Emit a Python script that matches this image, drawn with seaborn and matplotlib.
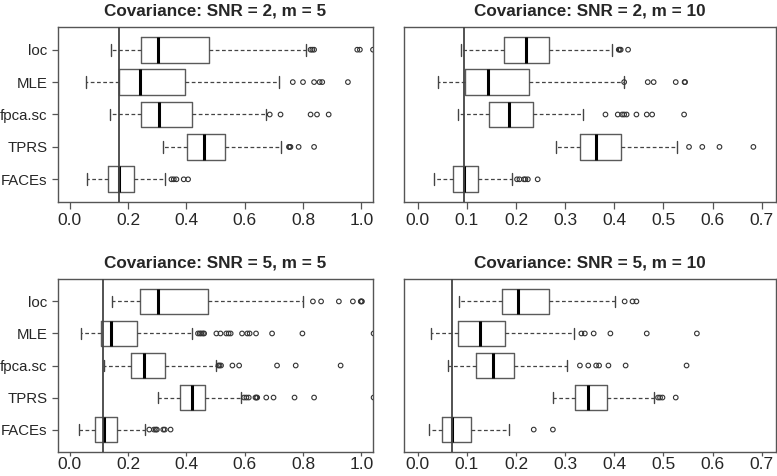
import pandas as pd
import matplotlib
matplotlib.use("Agg")
import matplotlib.pyplot as plt
import seaborn as sns

methods = ["loc", "MLE", "fpca.sc", "TPRS", "FACEs"]
titles = ["Covariance: SNR = 2, m = 5", "Covariance: SNR = 2, m = 10",
          "Covariance: SNR = 5, m = 5", "Covariance: SNR = 5, m = 10"]
truth = [0.169, 0.094, 0.115, 0.069]
x_ticks = [[0.0, 0.2, 0.4, 0.6, 0.8, 1.0],
           [0.0, 0.1, 0.2, 0.3, 0.4, 0.5, 0.6, 0.7],
           [0.0, 0.2, 0.4, 0.6, 0.8, 1.0],
           [0.0, 0.1, 0.2, 0.3, 0.4, 0.5, 0.6, 0.7]]
x_labels = [["0.0", "0.2", "0.4", "0.6", "0.8", "1.0"],
            ["0.0", "0.1", "0.2", "0.3", "0.4", "0.5", "0.6", "0.7"],
            ["0.0", "0.2", "0.4", "0.6", "0.8", "1.0"],
            ["0.0", "0.1", "0.2", "0.3", "0.4", "0.5", "0.6", "0.7"]]

# lower whisker, q1, median, q3, upper whisker (one row per method)
snr2_m5_box = [[0.141, 0.246, 0.303, 0.477, 0.811],
               [0.055, 0.170, 0.242, 0.394, 0.717],
               [0.137, 0.246, 0.305, 0.418, 0.673],
               [0.321, 0.403, 0.461, 0.534, 0.723],
               [0.061, 0.133, 0.169, 0.219, 0.328]]
snr2_m5_out = [[0.826, 0.832, 0.838, 0.986, 0.995, 1.040],
               [0.765, 0.800, 0.838, 0.857, 0.866, 0.954],
               [0.686, 0.723, 0.826, 0.848, 0.888],
               [0.752, 0.754, 0.757, 0.785, 0.838],
               [0.349, 0.357, 0.366, 0.391, 0.406]]

snr2_m10_box = [[0.089, 0.175, 0.221, 0.268, 0.396],
                [0.041, 0.097, 0.143, 0.227, 0.420],
                [0.082, 0.144, 0.185, 0.234, 0.337],
                [0.282, 0.331, 0.363, 0.413, 0.528],
                [0.033, 0.072, 0.094, 0.123, 0.192]]
snr2_m10_out = [[0.409, 0.411, 0.413, 0.428],
                [0.420, 0.468, 0.480, 0.525, 0.543, 0.544],
                [0.382, 0.407, 0.416, 0.420, 0.425, 0.445, 0.466, 0.477, 0.542],
                [0.552, 0.579, 0.614, 0.683],
                [0.202, 0.207, 0.216, 0.219, 0.224, 0.244]]

snr5_m5_box = [[0.145, 0.242, 0.302, 0.475, 0.800],
               [0.038, 0.106, 0.143, 0.232, 0.418],
               [0.117, 0.209, 0.256, 0.326, 0.501],
               [0.302, 0.377, 0.419, 0.464, 0.586],
               [0.032, 0.088, 0.117, 0.161, 0.257]]
snr5_m5_out = [[0.834, 0.862, 0.923, 0.971, 0.998, 1.000, 1.002],
               [0.440, 0.446, 0.451, 0.457, 0.461, 0.503, 0.517, 0.537, 0.545,
                0.552, 0.591, 0.609, 0.617, 0.639, 0.694, 0.798, 1.042],
               [0.510, 0.514, 0.519, 0.558, 0.581, 0.711, 0.775, 0.929],
               [0.598, 0.606, 0.614, 0.637, 0.640, 0.643, 0.674, 0.699, 0.771,
                0.838, 1.042],
               [0.273, 0.289, 0.295, 0.299, 0.321, 0.326, 0.346]]

snr5_m10_box = [[0.084, 0.172, 0.204, 0.268, 0.401],
                [0.027, 0.082, 0.126, 0.177, 0.318],
                [0.062, 0.119, 0.154, 0.195, 0.304],
                [0.275, 0.319, 0.346, 0.386, 0.481],
                [0.023, 0.050, 0.069, 0.108, 0.185]]
snr5_m10_out = [[0.421, 0.437, 0.445],
                [0.333, 0.340, 0.358, 0.392, 0.466, 0.568],
                [0.330, 0.347, 0.363, 0.369, 0.388, 0.423, 0.547],
                [0.489, 0.493, 0.498, 0.525],
                [0.236, 0.275]]

boxes = [snr2_m5_box, snr2_m10_box, snr5_m5_box, snr5_m10_box]
outliers = [snr2_m5_out, snr2_m10_out, snr5_m5_out, snr5_m10_out]

sns.set_style("ticks")
plt.rcParams["font.family"] = ["Liberation Sans", "DejaVu Sans"]

W, H = 777, 476
fig = plt.figure(figsize=(W / 100, H / 100), dpi=100)
rects = [[58, 27, 373, 202], [404, 27, 775.5, 202],
         [58, 279, 373, 452], [404, 279, 775.5, 452]]

frame = "#555555"
for k in range(4):
    x0, y0, x1, y1 = rects[k]
    ax = fig.add_axes([x0 / W, 1 - y1 / H, (x1 - x0) / W, (y1 - y0) / H])
    pos = list(range(1, len(methods) + 1))
    stats = []
    for i, m in enumerate(methods):
        lo, q1, med, q3, hi = boxes[k][i]
        stats.append(dict(label=m, whislo=lo, q1=q1, med=med, q3=q3,
                          whishi=hi, fliers=[]))
    ax.bxp(stats, positions=pos, orientation="horizontal", widths=0.8,
           capwidths=0.36, showfliers=False,
           boxprops=dict(color="#5a5a5a", lw=1.0),
           medianprops=dict(color="black", lw=2.2, solid_capstyle="butt"),
           whiskerprops=dict(color="#444444", lw=0.9, linestyle=(0, (3, 2))),
           capprops=dict(color="#444444", lw=1.0))

    out = pd.DataFrame({
        "value": [v for i in range(len(methods)) for v in outliers[k][i]],
        "pos": [i + 1 for i in range(len(methods)) for v in outliers[k][i]],
    })
    sns.scatterplot(data=out, x="value", y="pos", ax=ax, marker="o", s=11,
                    fc="none", ec="#333333", linewidth=0.8, legend=False,
                    zorder=3)

    ax.axvline(truth[k], color="#444444", lw=1.3, zorder=4)

    xmax = x_ticks[k][-1]
    pad = 0.04 * xmax
    ax.set_xlim(-pad, xmax + pad)
    ax.set_ylim(5.7, 0.3)
    ax.set_xticks(x_ticks[k])
    ax.set_xticklabels(x_labels[k], fontsize=12.5)
    ax.set_yticks(pos)
    if k % 2 == 0:
        ax.set_yticklabels(methods, fontsize=10.8)
        ax.tick_params(axis="y", length=4, width=0.9, color=frame, pad=3.5)
    else:
        ax.set_yticklabels([])
        ax.tick_params(axis="y", length=0)
    ax.set_xlabel("")
    ax.set_ylabel("")
    if k < 2:
        ax.tick_params(axis="x", length=5, width=0.9, color=frame, pad=3)
    else:
        ax.tick_params(axis="x", length=3, width=0.9, color=frame, pad=0.3)
    for s in ax.spines.values():
        s.set_visible(True)
        s.set_color(frame)
        s.set_linewidth(1.0)
    ax.set_title(titles[k], fontsize=12.3, fontweight="bold", pad=8)

fig.savefig("out.png", dpi=100)
